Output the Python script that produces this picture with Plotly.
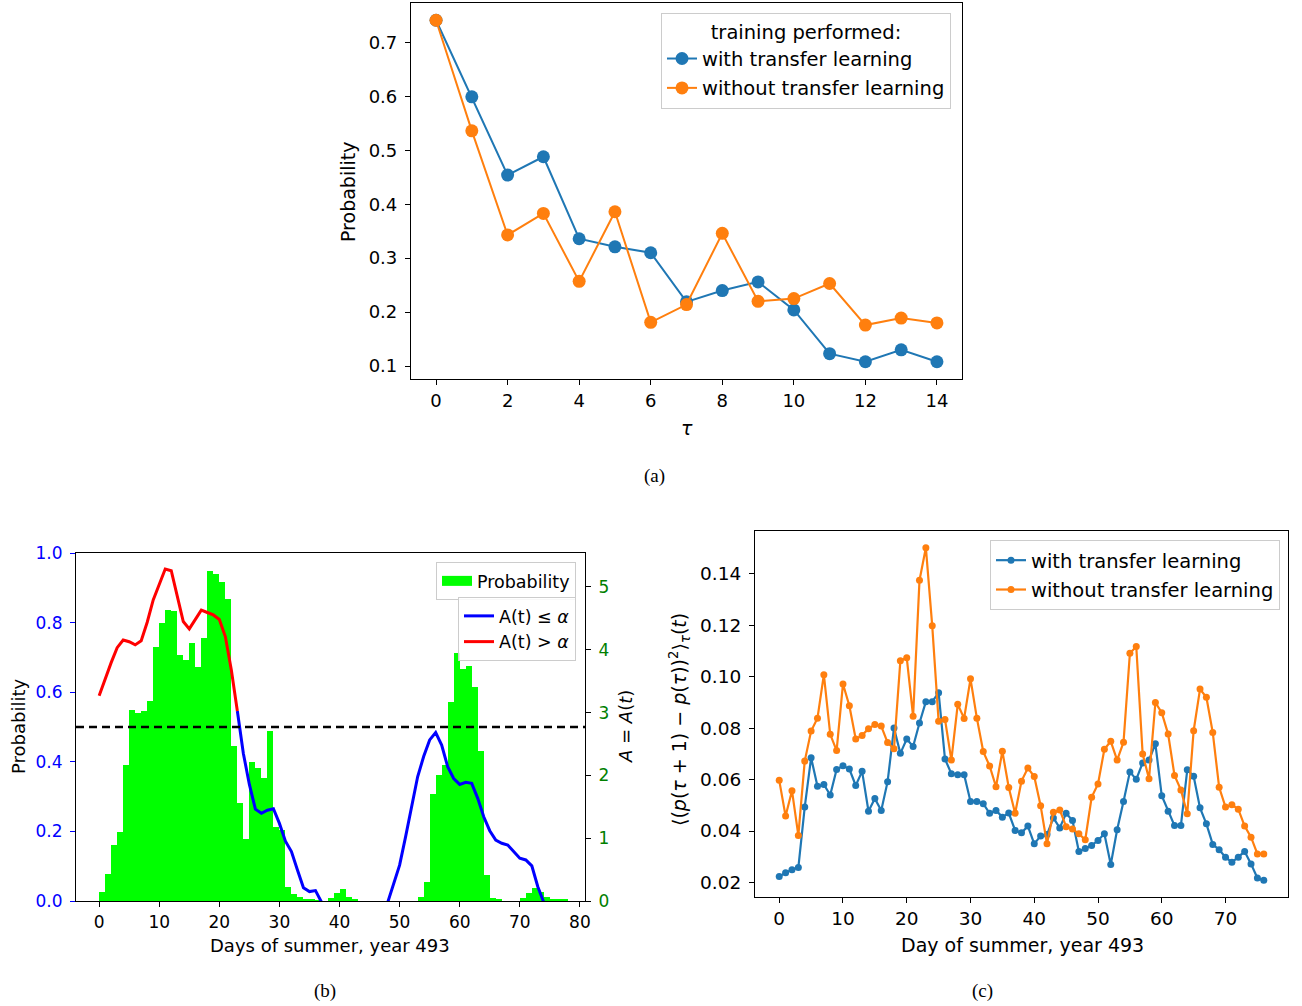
import plotly.graph_objects as go

W, H = 1302, 1006
def px(x): return x / W
def py(y): return 1 - y / H

FONT = "DejaVu Sans"
SERIF = "Liberation Serif"
C_BLUE = "#1f77b4"
C_ORANGE = "#ff7f0e"

# ---------------- Panel (a) ----------------
tau = list(range(15))
p_with = [0.741, 0.599, 0.454, 0.488, 0.336, 0.321, 0.310, 0.219, 0.240, 0.256,
          0.204, 0.123, 0.108, 0.130, 0.108]
p_without = [0.741, 0.536, 0.343, 0.383, 0.257, 0.386, 0.181, 0.214, 0.346, 0.220,
             0.225, 0.253, 0.176, 0.189, 0.180]

# ---------------- Panel (b) ----------------
hist_days = list(range(78))
hist_vals = [0.138, 0.425, 0.897, 1.104, 2.16, 3.036, 2.99, 3.02, 3.18, 4.04,
             4.43, 4.63, 4.62, 3.92, 3.83, 4.11, 3.73, 4.18, 5.25, 5.21,
             5.08, 4.80, 2.47, 1.566, 0.98, 2.21, 2.11, 1.96, 2.71, 1.18,
             1.13, 0.23, 0.11, 0.06, 0.03, 0.02, 0.01, 0.0, 0.04, 0.12,
             0.19, 0.07, 0.03, 0, 0, 0, 0, 0, 0, 0,
             0, 0, 0, 0.07, 0.30, 1.70, 2.00, 2.17, 3.17, 3.95,
             3.69, 3.74, 3.40, 2.39, 0.41, 0.04, 0.03, 0, 0, 0,
             0.04, 0.13, 0.21, 0.15, 0.07, 0.03, 0.03, 0.02]
line_days = list(range(76))
prob_vals = [0.590, 0.640, 0.685, 0.728, 0.750, 0.745, 0.736, 0.748, 0.801, 0.865,
             0.908, 0.954, 0.949, 0.876, 0.803, 0.782, 0.810, 0.836, 0.829, 0.822,
             0.809, 0.760, 0.664, 0.546, 0.424, 0.335, 0.264, 0.252, 0.261, 0.265,
             0.223, 0.172, 0.142, 0.089, 0.038, 0.027, 0.030, -0.003, -0.040, -0.060,
             -0.070, -0.070, -0.070, -0.070, -0.070, -0.070, -0.060, -0.055, -0.005, 0.051,
             0.103, 0.185, 0.271, 0.357, 0.415, 0.463, 0.484, 0.448, 0.386, 0.352,
             0.335, 0.341, 0.338, 0.295, 0.242, 0.202, 0.175, 0.166, 0.161, 0.142,
             0.123, 0.118, 0.101, 0.041, -0.005, -0.050]
switch_day = 23
alpha_threshold = 0.5

# ---------------- Panel (c) ----------------
days_c = list(range(77))
msd_with = [0.0223, 0.0238, 0.0249, 0.0258, 0.0493, 0.0685, 0.0574, 0.0581, 0.0540, 0.0639,
            0.0654, 0.0641, 0.0577, 0.0632, 0.0477, 0.0526, 0.0480, 0.0592, 0.0801, 0.0702,
            0.0758, 0.0729, 0.0820, 0.0903, 0.0903, 0.0938, 0.0680, 0.0623, 0.0619, 0.0619,
            0.0515, 0.0515, 0.0506, 0.0469, 0.0480, 0.0454, 0.0470, 0.0402, 0.0393, 0.0419,
            0.0350, 0.0381, 0.0386, 0.0451, 0.0412, 0.0469, 0.0441, 0.0320, 0.0332, 0.0344,
            0.0363, 0.0389, 0.0270, 0.0405, 0.0515, 0.0630, 0.0601, 0.0665, 0.0676, 0.0739,
            0.0537, 0.0477, 0.0421, 0.0421, 0.0638, 0.0613, 0.0490, 0.0428, 0.0348, 0.0327,
            0.0298, 0.0278, 0.0298, 0.0320, 0.0272, 0.0217, 0.0208]
msd_without = [0.0597, 0.0458, 0.0557, 0.0383, 0.0672, 0.0789, 0.0839, 0.1008, 0.0776, 0.0713,
               0.0972, 0.0887, 0.0758, 0.0772, 0.0798, 0.0814, 0.0808, 0.0744, 0.0720, 0.1062,
               0.1074, 0.0846, 0.1375, 0.1502, 0.1198, 0.0827, 0.0834, 0.0676, 0.0893, 0.0838,
               0.0992, 0.0839, 0.0709, 0.0653, 0.0572, 0.0710, 0.0569, 0.0469, 0.0594, 0.0645,
               0.0612, 0.0498, 0.0350, 0.0473, 0.0482, 0.0417, 0.0408, 0.0389, 0.0366, 0.0531,
               0.0583, 0.0718, 0.0749, 0.0676, 0.0745, 0.1091, 0.1118, 0.0700, 0.0603, 0.0900,
               0.0860, 0.0777, 0.0616, 0.0560, 0.0467, 0.0790, 0.0952, 0.0920, 0.0783, 0.0570,
               0.0493, 0.0502, 0.0485, 0.0419, 0.0376, 0.0311, 0.0311]

fig = go.Figure()

# Panel (a) traces
fig.add_trace(go.Scatter(x=tau, y=p_with, mode="lines+markers", name="with transfer learning",
                         line=dict(color=C_BLUE, width=2), marker=dict(size=13, color=C_BLUE),
                         xaxis="x", yaxis="y", legend="legend", legendgroup="a1"))
fig.add_trace(go.Scatter(x=tau, y=p_without, mode="lines+markers", name="without transfer learning",
                         line=dict(color=C_ORANGE, width=2), marker=dict(size=13, color=C_ORANGE),
                         xaxis="x", yaxis="y", legend="legend", legendgroup="a2"))

# Panel (b) traces
fig.add_trace(go.Bar(x=[d + 0.5 for d in hist_days], y=hist_vals, width=1.0, name="Probability",
                     marker=dict(color="#00ff00", line=dict(width=0)), showlegend=False,
                     xaxis="x2", yaxis="y3"))
# legend proxy for the histogram (wide patch like the original)
fig.add_trace(go.Scatter(x=[None], y=[None], mode="lines", name="Probability",
                         line=dict(color="#00ff00", width=13),
                         xaxis="x2", yaxis="y3", legend="legend2"))
fig.add_trace(go.Scatter(x=line_days[switch_day:], y=prob_vals[switch_day:], mode="lines",
                         name="A(t) ≤ <i>α</i>", line=dict(color="#0000ff", width=3),
                         xaxis="x2", yaxis="y4", legend="legend3", legendrank=1))
fig.add_trace(go.Scatter(x=line_days[:switch_day + 1], y=prob_vals[:switch_day + 1], mode="lines",
                         name="A(t) > <i>α</i>", line=dict(color="#ff0000", width=3),
                         xaxis="x2", yaxis="y4", legend="legend3", legendrank=2))

# Panel (c) traces
fig.add_trace(go.Scatter(x=days_c, y=msd_with, mode="lines+markers", name="with transfer learning",
                         line=dict(color=C_BLUE, width=2.2), marker=dict(size=7, color=C_BLUE),
                         xaxis="x3", yaxis="y5", legend="legend4", legendgroup="c1"))
fig.add_trace(go.Scatter(x=days_c, y=msd_without, mode="lines+markers", name="without transfer learning",
                         line=dict(color=C_ORANGE, width=2.2), marker=dict(size=7, color=C_ORANGE),
                         xaxis="x3", yaxis="y5", legend="legend4", legendgroup="c2"))

axis_common = dict(showline=True, linecolor="black", linewidth=1.2, mirror=True,
                   ticks="outside", ticklen=5, tickwidth=1.2, tickcolor="black",
                   showgrid=False, zeroline=False, automargin=False)
xstand = dict(ticklabelstandoff=0)
ystand = dict(ticklabelstandoff=4)

legend_common = dict(bgcolor="rgba(255,255,255,0.85)", bordercolor="#cccccc", borderwidth=1,
                     xanchor="right", yanchor="top")

fig.update_layout(
    width=W, height=H, margin=dict(l=0, r=0, t=0, b=0, autoexpand=False),
    paper_bgcolor="white", plot_bgcolor="white",
    font=dict(family=FONT, color="black"),
    barmode="overlay", bargap=0, hovermode=False,
    xaxis=dict(domain=[px(411), px(962)], anchor="y", range=[-0.7, 14.7],
               tickmode="array", tickvals=list(range(0, 15, 2)),
               tickfont=dict(size=18), **axis_common, **xstand),
    yaxis=dict(domain=[py(379), py(3)], anchor="x", range=[0.076, 0.773],
               tickmode="array", tickvals=[0.1, 0.2, 0.3, 0.4, 0.5, 0.6, 0.7], tickformat=".1f",
               tickfont=dict(size=18), **axis_common, **ystand),
    xaxis2=dict(domain=[px(76), px(585)], anchor="y3", range=[-3.85, 80.85],
                tickmode="array", tickvals=list(range(0, 81, 10)),
                tickfont=dict(size=17), **axis_common, **xstand),
    yaxis3=dict(domain=[py(901), py(553)], anchor="x2", side="right", range=[0, 5.54],
                tickmode="array", tickvals=[0, 1, 2, 3, 4, 5],
                tickfont=dict(size=17, color="#008000"),
                showline=True, linecolor="black", linewidth=1.2, ticks="outside", ticklen=5,
                tickwidth=1.2, tickcolor="black", showgrid=False, zeroline=False,
                automargin=False, ticklabelstandoff=4),
    yaxis4=dict(overlaying="y3", anchor="x2", side="left", range=[0, 1.0],
                tickmode="array", tickvals=[0, 0.2, 0.4, 0.6, 0.8, 1.0], tickformat=".1f",
                tickfont=dict(size=17, color="#0000ff"),
                showline=True, linecolor="black", linewidth=1.2, ticks="outside", ticklen=5,
                tickwidth=1.2, tickcolor="#0000ff", showgrid=False, zeroline=False,
                automargin=False, ticklabelstandoff=4),
    xaxis3=dict(domain=[px(755), px(1288)], anchor="y5", range=[-3.8, 79.8],
                tickmode="array", tickvals=list(range(0, 71, 10)),
                tickfont=dict(size=18.5), **axis_common, **xstand),
    yaxis5=dict(domain=[py(897), py(531)], anchor="x3", range=[0.01433, 0.1567],
                tickmode="array", tickvals=[0.02, 0.04, 0.06, 0.08, 0.10, 0.12, 0.14], tickformat=".2f",
                tickfont=dict(size=18.5), **axis_common, **ystand),
    legend=dict(x=px(951), y=py(13), font=dict(size=19.5), tracegroupgap=1,
                title=dict(text="training performed:", side="top center", font=dict(size=19.5)),
                **legend_common),
    legend2=dict(x=px(576), y=py(562), font=dict(size=17.5), **legend_common),
    legend3=dict(x=px(576), y=py(597), font=dict(size=17.5), **legend_common),
    legend4=dict(x=px(1280), y=py(540), font=dict(size=19.5), tracegroupgap=1, **legend_common),
)

fig.add_shape(type="line", xref="x2 domain", yref="y4", x0=0, x1=1,
              y0=alpha_threshold, y1=alpha_threshold,
              line=dict(color="black", width=2.5, dash="8px,5px"), layer="above")

def ann(x, y, text, size, angle=0, family=FONT):
    fig.add_annotation(x=px(x), y=py(y), xref="paper", yref="paper", text=text,
                       showarrow=False, textangle=angle, xanchor="center", yanchor="middle",
                       font=dict(size=size, family=family, color="black"))

# Panel (a) labels
ann(348, 192, "Probability", 19, -90)
ann(687, 428, "<i>τ</i>", 19)
ann(654, 476, "(a)", 19, family=SERIF)
# Panel (b) labels
ann(18, 727, "Probability", 18, -90)
ann(330, 945, "Days of summer, year 493", 18)
ann(625, 727, "<i>A</i> = <i>A</i>(<i>t</i>)", 18, -90)
ann(325, 991, "(b)", 19, family=SERIF)
# Panel (c) labels
ann(679, 720, "⟨(<i>p</i>(<i>τ</i> + 1) − <i>p</i>(<i>τ</i>))<sup>2</sup>⟩<sub><i>τ</i></sub>(<i>t</i>)", 19, -90)
ann(1022, 945, "Day of summer, year 493", 19)
ann(982, 991, "(c)", 19, family=SERIF)

# remove the default 8px page margin so the figure sits at the window origin
fig.write_html("out.html", config={"displayModeBar": False},
               post_script="document.body.style.margin='0px';")
